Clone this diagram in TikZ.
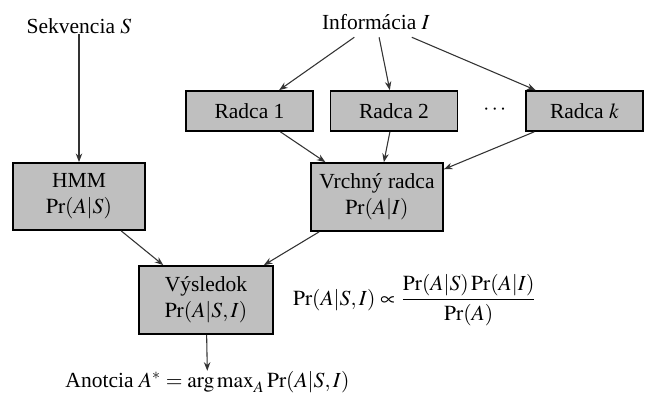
\documentclass[tikz,border=0pt]{standalone}
\usepackage{amsmath,amssymb}
\usepackage{mathptmx}
\usepackage[no-math]{fontspec}
\setmainfont{Liberation Serif}
\usepackage{tikz}
\usetikzlibrary{arrows.meta}
\tikzstyle{edge}=[draw=black!80, line width=0.5pt, -{Stealth[length=4pt,width=3pt]}]
\tikzstyle{box}=[draw=black, line width=0.8pt, fill=black!25, align=center, inner sep=2pt]
\tikzstyle{label}=[inner sep=0pt]

\begin{document}
\begin{tikzpicture}[x=0.465pt, y=-0.465pt]
\useasboundingbox ( 0 , 0 ) rectangle ( 645 , 394 );
\node[label] (sek) at ( 79 , 26 ){Sekvencia $S$};
\node (info) at ( 376 , 22 ){Informácia $I$};
\node[box, minimum width=59pt, minimum height=18.6pt] (r1) at ( 249.5 , 111 ){Radca 1};
\node[box, minimum width=59pt, minimum height=18.6pt] (r2) at ( 394 , 111 ){Radca 2};
\node (dots) at ( 496 , 110 ){$\cdots$};
\node[box, minimum width=54.4pt, minimum height=18.6pt] (rk) at ( 584.5 , 111 ){Radca $k$};
\node[box, minimum width=61.4pt, minimum height=31.2pt] (hmm) at ( 79 , 196.5 ){HMM\\$\Pr(A|S)$};
\node[box, minimum width=61.4pt, minimum height=31.6pt] (vr) at ( 377 , 197 ){Vrchný radca\\$\Pr(A|I)$};
\node[box, minimum width=62.3pt, minimum height=31.6pt] (vys) at ( 206 , 300 ){Výsledok\\$\Pr(A|S,I)$};
\node (form) at ( 415 , 300 ){$\displaystyle \Pr(A|S,I) \propto \frac{\Pr(A|S)\Pr(A|I)}{\Pr(A)}$};
\node[label] (anot) at ( 207.5 , 382 ){Anotcia $A^{*} = \operatorname{arg\,max}_{A} \Pr(A|S,I)$};
% vstupy
\draw[edge] (sek) -- (hmm);
\draw[edge] (info) -- (r1);
\draw[edge] (info) -- (r2);
\draw[edge] (info) -- (rk);
% radcovia
\draw[edge] (r1) -- (vr);
\draw[edge] (r2) -- (vr);
\draw[edge] (rk) -- (vr);
% kombinacia
\draw[edge] (hmm) -- (vys);
\draw[edge] (vr) -- (vys);
\draw[edge] (vys) -- (anot);
\end{tikzpicture}
\end{document}
